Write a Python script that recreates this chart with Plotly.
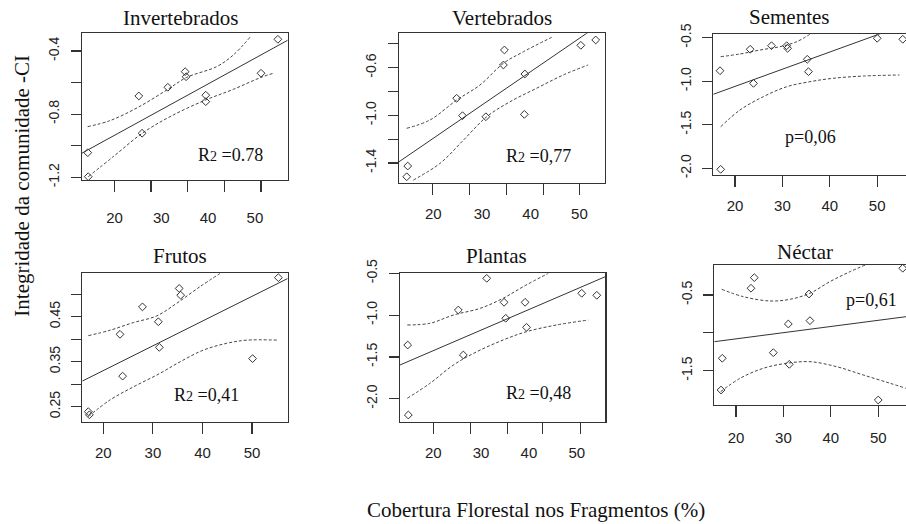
import plotly.graph_objects as go

W, H = 906, 524

# ---------------- data ----------------
titles = ["Invertebrados", "Vertebrados", "Sementes", "Frutos", "Plantas", "Néctar"]
stat_labels = ["R<span style='font-size:14px'>2</span> =0.78",
               "R<span style='font-size:14px'>2</span> =0,77",
               "p=0,06",
               "R<span style='font-size:14px'>2</span> =0,41",
               "R<span style='font-size:14px'>2</span> =0,48",
               "p=0,61"]

inv_x = [14.3, 14.4, 25.2, 25.9, 31.4, 35.1, 35.3, 39.5, 39.5, 51.3, 54.9]
inv_y = [-1.044, -1.196, -0.685, -0.921, -0.630, -0.531, -0.563, -0.680, -0.721, -0.541, -0.326]
inv_up_x = [14.27, 19.04, 25.26, 31.38, 35.43, 41.84, 45.40, 48.95]
inv_up_y = [-0.879, -0.841, -0.753, -0.643, -0.567, -0.499, -0.425, -0.313]
inv_lo_x = [14.4, 19.74, 25.94, 31.86, 39.49, 45.38, 51.3, 53.93]
inv_lo_y = [-1.196, -1.069, -0.921, -0.816, -0.710, -0.643, -0.567, -0.541]
inv_fit = [-1.2595, 0.01627]   # intercept, slope

ver_x = [14.75, 14.54, 24.8, 26.0, 30.8, 34.4, 34.6, 38.8, 38.7, 50.3, 53.35]
ver_y = [-1.426, -1.516, -0.857, -1.003, -1.012, -0.577, -0.451, -0.653, -0.992, -0.412, -0.367]
ver_up_x = [14.54, 19.33, 24.8, 29.6, 34.4, 38.5, 44.3]
ver_up_y = [-1.109, -1.039, -0.872, -0.745, -0.563, -0.466, -0.345]
ver_lo_x = [15.9, 21.4, 26.2, 30.97, 35.75, 41.2, 46.7, 51.8]
ver_lo_y = [-1.544, -1.403, -1.208, -1.012, -0.886, -0.773, -0.661, -0.577]
ver_fit = [-1.753, 0.0280]

sem_x = [16.84, 16.98, 23.2, 23.9, 27.7, 30.9, 31.1, 35.25, 35.5, 50.0, 55.4]
sem_y = [-0.879, -2.011, -0.633, -1.024, -0.592, -0.592, -0.622, -0.748, -0.890, -0.507, -0.518]
sem_up_x = [16.98, 21.05, 25.3, 29.5, 33.0, 35.8]
sem_up_y = [-0.718, -0.687, -0.641, -0.603, -0.546, -0.461]
sem_lo_x = [16.98, 21.05, 25.97, 30.9, 35.8, 40.7, 47.1, 54.7]
sem_lo_y = [-1.522, -1.330, -1.177, -1.063, -1.005, -0.966, -0.940, -0.928]
sem_fit = [-1.454, 0.01974]

fru_x = [16.98, 17.2, 23.37, 23.9, 27.9, 31.1, 31.3, 35.3, 35.6, 50.1, 55.3]
fru_y = [0.239, 0.232, 0.411, 0.318, 0.472, 0.439, 0.382, 0.513, 0.498, 0.357, 0.537]
fru_up_x = [16.98, 21.35, 26.05, 30.77, 34.8, 39.5, 43.5]
fru_up_y = [0.408, 0.420, 0.437, 0.452, 0.480, 0.517, 0.546]
fru_lo_x = [16.98, 21.35, 26.05, 31.4, 35.5, 40.2, 44.9, 48.9, 55.3]
fru_lo_y = [0.228, 0.265, 0.294, 0.324, 0.350, 0.376, 0.391, 0.398, 0.398]
fru_fit = [0.2202, 0.005506]

pla_x = [14.64, 14.77, 25.23, 26.28, 31.17, 34.8, 35.15, 39.2, 39.5, 51.05, 54.2]
pla_y = [-1.358, -2.195, -0.939, -1.477, -0.560, -0.847, -1.038, -0.847, -1.146, -0.739, -0.763]
pla_up_x = [14.56, 19.3, 24.2, 29.8, 34.6, 38.8, 44.06]
pla_up_y = [-1.118, -1.098, -0.999, -0.919, -0.799, -0.660, -0.500]
pla_lo_x = [14.56, 19.3, 24.2, 29.1, 34.6, 39.5, 45.8, 52.4]
pla_lo_y = [-1.995, -1.816, -1.597, -1.438, -1.298, -1.198, -1.118, -1.059]
pla_fit = [-1.917, 0.02459]

nec_x = [17.1, 16.84, 23.16, 23.86, 27.87, 31.03, 31.24, 35.4, 35.6, 50.0, 55.17]
nec_y = [-1.336, -1.755, -0.411, -0.271, -1.262, -0.883, -1.416, -0.487, -0.839, -1.887, -0.147]
nec_up_x = [16.98, 21.54, 27.17, 31.4, 35.6, 39.8, 44.05, 47.6]
nec_up_y = [-0.425, -0.522, -0.579, -0.557, -0.477, -0.324, -0.192, -0.095]
nec_lo_x = [16.77, 20.84, 25.76, 30.7, 35.6, 41.24, 46.86, 52.5, 55.86]
nec_lo_y = [-1.777, -1.601, -1.468, -1.402, -1.381, -1.447, -1.557, -1.666, -1.733]
nec_fit = [-1.243, 0.00817]

x_label_vals = [20, 30, 40, 50]
x_label_text = ["20", "30", "40", "50"]
x_tick_marks = [
    [19.96, 27.8, 35.6, 43.5, 51.3],
    [19.88, 27.4, 35.07, 42.6, 50.1],
    [20, 30, 40, 50],
    [20, 30, 40, 50],
    [20, 27.8, 35.5, 42.9, 50.8],
    [20, 30, 40, 50],
]
y_tick_vals = [
    [-0.4, -0.6, -0.8, -1.0, -1.2],
    [-0.4, -0.6, -0.8, -1.0, -1.2, -1.4],
    [-0.5, -1.0, -1.5, -2.0],
    [0.25, 0.30, 0.35, 0.40, 0.45, 0.50],
    [-0.5, -1.0, -1.5, -2.0],
    [-0.5, -1.0, -1.5],
]
y_tick_text = [
    ["-0.4", "", "-0.8", "", "-1.2"],
    ["", "-0.6", "", "-1.0", "", "-1.4"],
    ["-0.5", "-1.0", "-1.5", "-2.0"],
    ["0.25", "", "0.35", "", "0.45", ""],
    ["-0.5", "-1.0", "-1.5", "-2.0"],
    ["-0.5", "", "-1.5"],
]

series = [
    (inv_x, inv_y, inv_up_x, inv_up_y, inv_lo_x, inv_lo_y, inv_fit),
    (ver_x, ver_y, ver_up_x, ver_up_y, ver_lo_x, ver_lo_y, ver_fit),
    (sem_x, sem_y, sem_up_x, sem_up_y, sem_lo_x, sem_lo_y, sem_fit),
    (fru_x, fru_y, fru_up_x, fru_up_y, fru_lo_x, fru_lo_y, fru_fit),
    (pla_x, pla_y, pla_up_x, pla_up_y, pla_lo_x, pla_lo_y, pla_fit),
    (nec_x, nec_y, nec_up_x, nec_up_y, nec_lo_x, nec_lo_y, nec_fit),
]

# ---------------- layout (pixel geometry) ----------------
boxes = [  # left, right, top, bottom in px
    (81.7, 287.7, 33.3, 180.0),
    (399.0, 605.0, 33.3, 182.7),
    (713.3, 906.0, 34.3, 175.0),
    (82.3, 287.7, 272.7, 421.7),
    (400.0, 605.3, 273.3, 421.7),
    (714.3, 906.0, 265.0, 405.0),
]
x_ranges = [(13.0, 57.0), (12.96, 55.26), (15.42, 56.08), (15.77, 57.18), (13.03, 55.98), (15.42, 55.86)]
y_ranges = [(-1.217, -0.288), (-1.566, -0.311), (-2.076, -0.461), (0.2167, 0.548), (-2.275, -0.5), (-1.953, -0.104)]
x_standoff = [13, 6, 6, 6, 6, 8]
title_pos = [(180, 18.3), (501.7, 18.3), (789.3, 17.3), (180, 255.7), (496.7, 255.7), (805, 251.7)]
stat_pos = [(230, 155), (538.3, 156), (810, 136.7), (206.7, 395), (538.3, 393.3), (871.7, 300)]

INK = "#333333"
fig = go.Figure()

for i, (sx, sy, ux, uy, lx, ly, fit) in enumerate(series):
    k = i + 1
    xa = "x" if k == 1 else f"x{k}"
    ya = "y" if k == 1 else f"y{k}"
    x0, x1 = x_ranges[i]
    fit_x = [x0, x1]
    fit_y = [fit[0] + fit[1] * v for v in fit_x]
    fig.add_trace(go.Scatter(x=fit_x, y=fit_y, mode="lines", xaxis=xa, yaxis=ya,
                             line=dict(color=INK, width=1), hoverinfo="skip"))
    for bx, by in ((ux, uy), (lx, ly)):
        fig.add_trace(go.Scatter(x=bx, y=by, mode="lines", xaxis=xa, yaxis=ya,
                                 line=dict(color="#444444", width=1, dash="3px,2px", shape="spline"),
                                 hoverinfo="skip"))
    fig.add_trace(go.Scatter(x=sx, y=sy, mode="markers", xaxis=xa, yaxis=ya,
                             marker=dict(symbol="diamond-open", size=6, color=INK,
                                         line=dict(width=1, color=INK)), cliponaxis=False))

    l, r, t, b = boxes[i]
    mirror_y = r < W - 1
    xkey = "xaxis" if k == 1 else f"xaxis{k}"
    ykey = "yaxis" if k == 1 else f"yaxis{k}"
    fig.update_layout({
        xkey: dict(domain=[l / W, min(r / W, 1.0)], range=list(x_ranges[i]), anchor=ya,
                   automargin=False,
                   showline=True, linecolor=INK, linewidth=1.2, mirror=True,
                   showgrid=False, zeroline=False,
                   tickmode="array", tickvals=x_label_vals, ticktext=x_label_text,
                   ticks="outside", ticklen=11, tickcolor="rgba(0,0,0,0)",
                   ticklabelstandoff=x_standoff[i],
                   tickfont=dict(family="Liberation Sans", size=15, color="#222222"),
                   minor=dict(tickmode="array", tickvals=x_tick_marks[i], ticks="outside",
                              ticklen=11, tickwidth=1.2, tickcolor=INK, showgrid=False)),
        ykey: dict(domain=[1 - b / H, 1 - t / H], range=list(y_ranges[i]), anchor=xa,
                   automargin=False,
                   showline=True, linecolor=INK, linewidth=1.2, mirror=mirror_y,
                   showgrid=False, zeroline=False,
                   tickmode="array", tickvals=y_tick_vals[i], ticktext=y_tick_text[i],
                   ticks="outside", ticklen=10, tickwidth=1.2, tickcolor=INK,
                   tickangle=-90, ticklabelstandoff=6,
                   tickfont=dict(family="Liberation Sans", size=14, color="#222222")),
    })

annotations = []
for i in range(6):
    px, py = title_pos[i]
    annotations.append(dict(text=titles[i], x=px / W, y=1 - py / H, xref="paper", yref="paper",
                            showarrow=False, xanchor="center", yanchor="middle",
                            font=dict(family="Liberation Serif", size=21, color="#111111")))
    px, py = stat_pos[i]
    annotations.append(dict(text=stat_labels[i], x=px / W, y=1 - py / H, xref="paper", yref="paper",
                            showarrow=False, xanchor="center", yanchor="middle",
                            font=dict(family="Liberation Serif", size=18, color="#111111")))
annotations.append(dict(text="Integridade da comunidade -CI", x=21.7 / W, y=1 - 186 / H,
                        xref="paper", yref="paper", showarrow=False, textangle=-90,
                        xanchor="center", yanchor="middle",
                        font=dict(family="Liberation Serif", size=21, color="#111111")))
annotations.append(dict(text="Cobertura Florestal nos Fragmentos (%)", x=536 / W, y=1 - 510 / H,
                        xref="paper", yref="paper", showarrow=False,
                        xanchor="center", yanchor="middle",
                        font=dict(family="Liberation Serif", size=21, color="#111111")))

fig.update_layout(width=W, height=H, margin=dict(l=0, r=0, t=0, b=0, autoexpand=False),
                  paper_bgcolor="white", plot_bgcolor="white", showlegend=False,
                  annotations=annotations)

fig.write_html("out.html", config={"displayModeBar": False, "staticPlot": True},
               post_script="document.body.style.margin='0';document.body.style.overflow='hidden';")
